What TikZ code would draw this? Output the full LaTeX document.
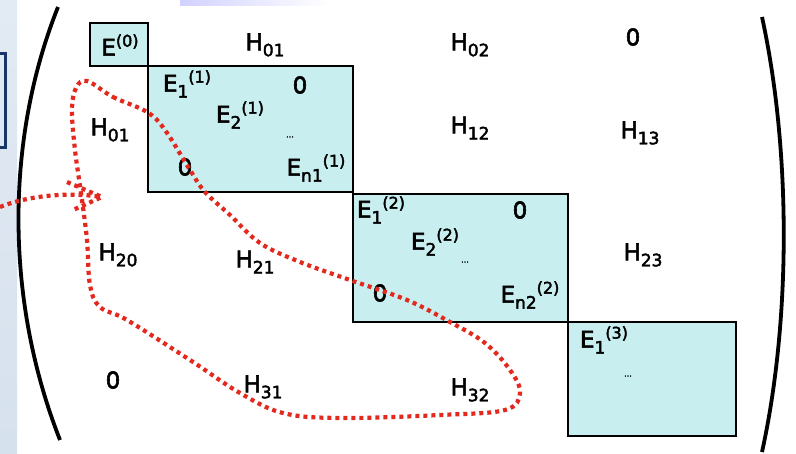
\documentclass[tikz,border=0pt]{standalone}
\usepackage{fontspec}
\setmainfont{DejaVu Sans}[UprightFeatures={FakeBold=2.5}]
\usetikzlibrary{positioning}

\definecolor{blockfill}{HTML}{C9EEF0}
\definecolor{loopred}{HTML}{E3281E}
\definecolor{slideblue}{HTML}{D6E1EE}
\definecolor{navy}{HTML}{173665}

% entry with subscript and superscript written one after the other
\newcommand{\ent}[3]{#1\raisebox{-6pt}{\fontsize{17}{17}\selectfont #2}\raisebox{9pt}{\fontsize{16}{16}\selectfont #3}}

\begin{document}
\begin{tikzpicture}[x=1pt,y=-1pt,
    font=\fontsize{23}{23}\selectfont,
    entry/.style={inner sep=0pt},
    block/.style={draw=black,line width=2.4pt,fill=blockfill},
    paren/.style={draw=black,line width=3.8pt},
    redloop/.style={draw=loopred,line width=4.2pt,dash pattern=on 4pt off 4pt}]
  \useasboundingbox (0,0) rectangle (796,453);
  \fill[white] (0,0) rectangle (796,453);
  % slide background
  \shade[top color=slideblue!70,bottom color=slideblue] (0,0) rectangle (17,453);
  \shade[left color=blue!18,right color=white] (180,0) rectangle (330,5);
  \draw[navy,line width=3pt] (-10,53) rectangle (5,147);

  % matrix brackets
  \draw[paren] (58,7) .. controls (5,140) and (5,300) .. (60,440);
  \draw[paren] (762,17) .. controls (791,150) and (791,320) .. (762,452);

  % diagonal blocks
  \draw[block] (90,23) rectangle (148,66);
  \draw[block] (148,66) rectangle (353,192);
  \draw[block] (353,194) rectangle (568,322);
  \draw[block] (568,322) rectangle (736,436);

  % row 0
  \node[entry] (e0)   at (120,45) {E\raisebox{9pt}{\fontsize{16}{16}\selectfont (0)}};
  \node[entry] (h01a) at (265,45) {\ent{H}{01}{}};
  \node[entry] (h02)  at (470,45) {\ent{H}{02}{}};
  \node[entry] (z03)  at (633,37) {0};
  % row 1
  \node[entry] (h01b) at (110,130) {\ent{H}{01}{}};
  \node[entry] (e11)  at (187,84) {\ent{E}{1}{(1)}};
  \node[entry] (z1a)  at (300,85) {0};
  \node[entry] (e21)  at (240,115) {\ent{E}{2}{(1)}};
  \node[entry] (d1)   at (290,137) {\fontsize{8}{8}\selectfont ...};
  \node[entry] (z1b)  at (185,167) {0};
  \node[entry] (en1)  at (316,168) {\ent{E}{n1}{(1)}};
  \node[entry] (h12)  at (470,128) {\ent{H}{12}{}};
  \node[entry] (h13)  at (640,133) {\ent{H}{13}{}};
  % row 2
  \node[entry] (h20)  at (118,255) {\ent{H}{20}{}};
  \node[entry] (h21)  at (255,262) {\ent{H}{21}{}};
  \node[entry] (e12)  at (381,210) {\ent{E}{1}{(2)}};
  \node[entry] (z2a)  at (520,210) {0};
  \node[entry] (e22)  at (435,242) {\ent{E}{2}{(2)}};
  \node[entry] (d2)   at (465,262) {\fontsize{8}{8}\selectfont ...};
  \node[entry] (z2b)  at (380,293) {0};
  \node[entry] (en2)  at (530,295) {\ent{E}{n2}{(2)}};
  \node[entry] (h23)  at (643,255) {\ent{H}{23}{}};
  % row 3
  \node[entry] (z30)  at (113,380) {0};
  \node[entry] (h31)  at (263,387) {\ent{H}{31}{}};
  \node[entry] (h32)  at (470,390) {\ent{H}{32}{}};
  \node[entry] (e13)  at (604,340) {\ent{E}{1}{(3)}};
  \node[entry] (d3)   at (628,376) {\fontsize{8}{8}\selectfont ...};

  % red dotted loop
  \draw[redloop] plot[smooth cycle,tension=0.6] coordinates {
    (87,81) (113,97) (147,112) (165,130) (190,170) (205,192) (230,215)
    (260,243) (300,262) (350,280) (407,300) (450,322) (485,343) (510,370)
    (520,393) (505,410) (440,415) (340,418) (283,413) (240,393) (190,360)
    (127,320) (100,307) (90,285) (87,240) (82,200) (75,150) (72,110) (76,88)};

  % dotted arrow into the loop
  \coordinate (arrtail) at (0,207);
  \coordinate (arrtip)  at (102,197);
  \draw[redloop] (arrtail) .. controls (30,195) and (70,192) .. (arrtip);
  \draw[redloop] (67,182) -- (arrtip) -- (73,210);
\end{tikzpicture}
\end{document}
